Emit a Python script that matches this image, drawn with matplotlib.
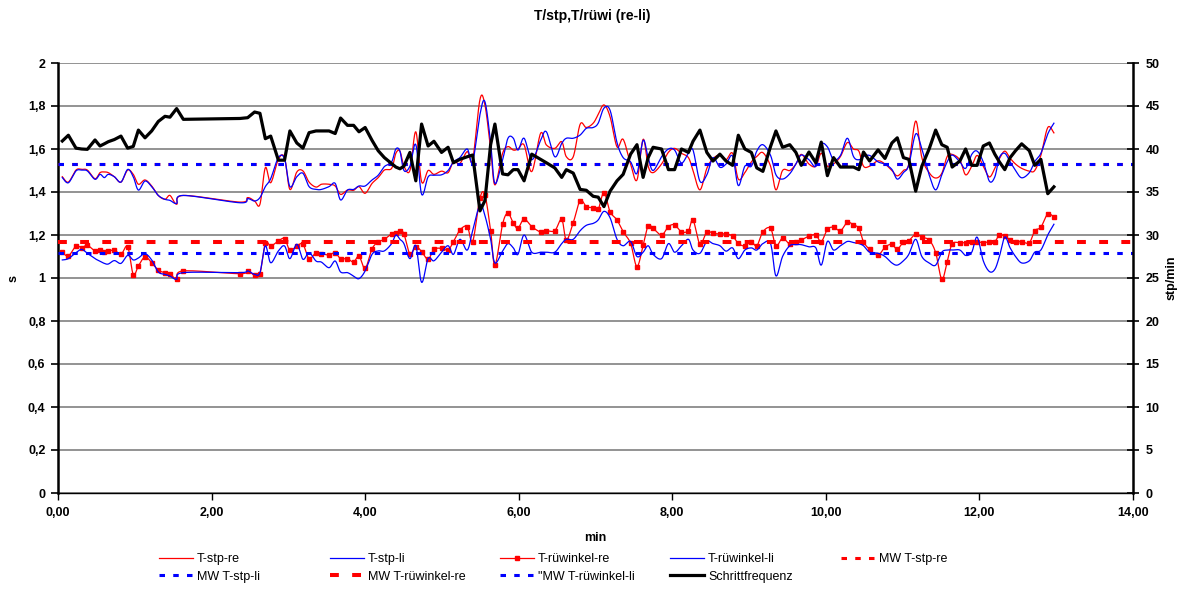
import numpy as np
import matplotlib
matplotlib.use("Agg")
import matplotlib.pyplot as plt
from matplotlib.lines import Line2D

plt.rcParams['font.family'] = ['Liberation Sans', 'DejaVu Sans']

# time of each recorded step [min]
t_min = [
    0.056, 0.135, 0.234, 0.308, 0.382, 0.482, 0.547, 0.603, 0.655, 0.734, 0.82, 0.907, 0.98, 1.047, 1.133, 1.22, 1.306, 1.393, 1.458, 1.545, 1.632,
    2.37, 2.47, 2.56, 2.63, 2.70, 2.77, 2.87, 2.95, 3.02, 3.11, 3.19, 3.27, 3.36, 3.43, 3.53, 3.61, 3.68, 3.77, 3.85, 3.92, 4.00, 4.09, 4.17, 4.25,
    4.345, 4.40, 4.453, 4.505, 4.583, 4.66, 4.735, 4.82, 4.896, 4.995, 5.08, 5.15, 5.234, 5.33, 5.40, 5.495, 5.56, 5.634, 5.69, 5.79,
    5.86, 5.93, 5.99, 6.07, 6.17, 6.285, 6.36, 6.47, 6.56, 6.62, 6.71, 6.80, 6.88, 6.97, 7.035, 7.11, 7.19, 7.28, 7.36, 7.457,
    7.54, 7.62, 7.686, 7.75, 7.86, 7.95, 8.03, 8.12, 8.21, 8.27, 8.36, 8.45, 8.53, 8.62,
    8.70, 8.785, 8.86, 8.945, 9.03, 9.10, 9.18, 9.28, 9.35, 9.436, 9.53, 9.61, 9.68, 9.78, 9.87, 9.94, 10.02, 10.10, 10.19, 10.28,
    10.36, 10.43, 10.49, 10.57, 10.68, 10.77, 10.86, 10.93, 11.01, 11.08, 11.17, 11.25, 11.345, 11.43, 11.51, 11.58, 11.645, 11.745,
    11.82, 11.90, 11.97, 12.05, 12.13, 12.20, 12.26, 12.33, 12.40, 12.47, 12.55, 12.65, 12.72, 12.80, 12.89, 12.97,
]

# step time right / left [s]
t_stp_re = [
    1.471, 1.446, 1.502, 1.505, 1.502, 1.462, 1.490, 1.493, 1.490, 1.471, 1.446, 1.502, 1.482, 1.436, 1.456, 1.428, 1.384, 1.366, 1.384, 1.343, 1.384,
    1.353, 1.374, 1.358, 1.343, 1.513, 1.443, 1.552, 1.560, 1.412, 1.493, 1.498, 1.446, 1.423, 1.436, 1.436, 1.428, 1.389, 1.409, 1.408, 1.425, 1.394, 1.440, 1.467, 1.502,
    1.51, 1.58, 1.59, 1.52, 1.50, 1.68, 1.448, 1.50, 1.482, 1.497, 1.49, 1.54, 1.533, 1.588, 1.549, 1.83, 1.805, 1.60, 1.433, 1.58,
    1.611, 1.595, 1.60, 1.619, 1.495, 1.673, 1.619, 1.603, 1.634, 1.564, 1.564, 1.715, 1.70, 1.72, 1.76, 1.805, 1.75, 1.61, 1.645, 1.53,
    1.456, 1.645, 1.52, 1.49, 1.53, 1.585, 1.603, 1.58, 1.56, 1.50, 1.41, 1.51, 1.555, 1.572,
    1.55, 1.58, 1.46, 1.49, 1.54, 1.565, 1.583, 1.52, 1.41, 1.50, 1.50, 1.53, 1.575, 1.53, 1.52, 1.58, 1.52, 1.53, 1.565, 1.63,
    1.60, 1.59, 1.52, 1.52, 1.545, 1.53, 1.50, 1.475, 1.50, 1.53, 1.73, 1.56, 1.49, 1.465, 1.487, 1.565, 1.575, 1.549,
    1.48, 1.52, 1.57, 1.52, 1.47, 1.51, 1.555, 1.59, 1.557, 1.53, 1.51, 1.497, 1.50, 1.57, 1.70, 1.675,
]
t_stp_li = [
    1.467, 1.443, 1.498, 1.502, 1.498, 1.459, 1.482, 1.467, 1.482, 1.471, 1.446, 1.505, 1.471, 1.409, 1.451, 1.425, 1.384, 1.366, 1.361, 1.347, 1.384,
    1.350, 1.369, 1.358, 1.374, 1.425, 1.462, 1.560, 1.555, 1.425, 1.471, 1.487, 1.425, 1.412, 1.412, 1.425, 1.440, 1.363, 1.409, 1.412, 1.428, 1.428, 1.456, 1.478, 1.518,
    1.54, 1.60, 1.59, 1.50, 1.52, 1.62, 1.39, 1.47, 1.478, 1.48, 1.50, 1.54, 1.56, 1.60, 1.54, 1.76, 1.82, 1.63, 1.44, 1.55,
    1.65, 1.65, 1.595, 1.65, 1.55, 1.64, 1.68, 1.564, 1.626, 1.65, 1.65, 1.665, 1.696, 1.70, 1.72, 1.79, 1.78, 1.63, 1.56, 1.54,
    1.487, 1.64, 1.56, 1.50, 1.564, 1.60, 1.595, 1.535, 1.58, 1.595, 1.45, 1.48, 1.56, 1.515,
    1.53, 1.567, 1.43, 1.52, 1.52, 1.59, 1.62, 1.57, 1.48, 1.46, 1.485, 1.53, 1.572, 1.55, 1.52, 1.62, 1.61, 1.55, 1.57, 1.65,
    1.565, 1.55, 1.565, 1.57, 1.54, 1.53, 1.505, 1.46, 1.49, 1.525, 1.67, 1.60, 1.48, 1.41, 1.48, 1.54, 1.572, 1.54,
    1.51, 1.575, 1.59, 1.54, 1.45, 1.47, 1.56, 1.58, 1.54, 1.50, 1.466, 1.49, 1.541, 1.58, 1.67, 1.72,
]

# time between back-swing angles right / left [s]
t_rw_re = [
    1.121, 1.102, 1.149, 1.141, 1.152, 1.126, 1.129, 1.121, 1.124, 1.130, 1.110, 1.146, 1.016, 1.056, 1.098, 1.071, 1.036, 1.025, 1.020, 0.994, 1.033,
    1.020, 1.033, 1.012, 1.020, 1.164, 1.149, 1.172, 1.183, 1.130, 1.149, 1.157, 1.090, 1.118, 1.113, 1.107, 1.118, 1.090, 1.090, 1.074, 1.102, 1.045, 1.136, 1.167, 1.180,
    1.205, 1.208, 1.22, 1.205, 1.112, 1.146, 1.123, 1.087, 1.133, 1.138, 1.13, 1.169, 1.223, 1.239, 1.169, 1.371, 1.386, 1.22, 1.06, 1.251,
    1.301, 1.254, 1.231, 1.274, 1.239, 1.214, 1.22, 1.22, 1.273, 1.177, 1.257, 1.36, 1.332, 1.327, 1.32, 1.397, 1.308, 1.27, 1.215, 1.161,
    1.053, 1.153, 1.243, 1.231, 1.2, 1.239, 1.247, 1.215, 1.22, 1.27, 1.158, 1.215, 1.208, 1.205,
    1.205, 1.195, 1.161, 1.149, 1.169, 1.149, 1.215, 1.231, 1.149, 1.185, 1.158, 1.169, 1.177, 1.195, 1.2, 1.169, 1.226, 1.236, 1.22, 1.259,
    1.247, 1.231, 1.169, 1.133, 1.107, 1.143, 1.157, 1.133, 1.169, 1.174, 1.205, 1.189, 1.177, 1.118, 0.994, 1.076, 1.158, 1.164,
    1.164, 1.169, 1.169, 1.164, 1.169, 1.169, 1.2, 1.195, 1.177, 1.169, 1.169, 1.164, 1.22, 1.236, 1.298, 1.282,
]
t_rw_li = [
    1.084, 1.090, 1.118, 1.133, 1.115, 1.090, 1.078, 1.068, 1.065, 1.081, 1.068, 1.105, 1.084, 1.093, 1.113, 1.084, 1.028, 1.017, 1.009, 0.994, 1.025,
    1.025, 1.033, 1.017, 1.025, 1.149, 1.071, 1.126, 1.149, 1.090, 1.157, 1.087, 1.118, 1.079, 1.074, 1.048, 1.079, 1.028, 1.025, 1.009, 0.997, 1.033, 1.110, 1.126, 1.126,
    1.16, 1.20, 1.18, 1.16, 1.09, 1.15, 0.98, 1.09, 1.08, 1.12, 1.15, 1.11, 1.18, 1.13, 1.22, 1.34, 1.29, 1.18, 1.07, 1.125,
    1.16, 1.14, 1.11, 1.20, 1.12, 1.12, 1.12, 1.12, 1.16, 1.18, 1.18, 1.22, 1.245, 1.254, 1.27, 1.31, 1.28, 1.18, 1.15, 1.17,
    1.10, 1.12, 1.15, 1.11, 1.09, 1.16, 1.12, 1.15, 1.18, 1.13, 1.115, 1.17, 1.16, 1.15,
    1.125, 1.14, 1.09, 1.13, 1.14, 1.13, 1.16, 1.16, 1.01, 1.10, 1.15, 1.155, 1.155, 1.145, 1.14, 1.06, 1.17, 1.13, 1.15, 1.17,
    1.165, 1.16, 1.15, 1.12, 1.115, 1.10, 1.07, 1.06, 1.08, 1.11, 1.18, 1.10, 1.07, 1.06, 1.12, 1.13, 1.13, 1.13,
    1.105, 1.12, 1.19, 1.08, 1.03, 1.04, 1.10, 1.19, 1.14, 1.10, 1.07, 1.08, 1.12, 1.13, 1.20, 1.25,
]

# cadence [stp/min]
schrittfrequenz = [
    40.93, 41.6, 40.1, 40.0, 39.96, 41.05, 40.35, 40.6, 40.85, 41.1, 41.5, 40.1, 40.3, 42.2, 41.3, 42.1, 43.2, 43.8, 43.7, 44.7, 43.45,
    43.55, 43.64, 44.3, 44.15, 41.2, 41.5, 38.7, 38.7, 42.1, 40.7, 40.1, 41.9, 42.1, 42.1, 42.1, 41.8, 43.6, 42.75, 42.75, 42.0, 42.5, 41.0, 39.8, 39.0,
    38.3, 37.9, 37.7, 38.0, 39.6, 36.3, 42.9, 40.35, 40.9, 39.6, 40.2, 38.4, 38.8, 39.1, 39.3, 32.8, 34.0, 40.5, 42.9, 37.1,
    37.0, 37.6, 37.6, 36.3, 39.4, 38.8, 38.4, 37.8, 36.7, 37.6, 37.2, 35.3, 35.2, 34.5, 34.4, 33.3, 35.1, 36.3, 37.05, 39.4,
    40.5, 36.7, 39.0, 40.2, 40.0, 37.6, 37.6, 40.0, 39.6, 40.9, 42.2, 39.6, 38.6, 39.4,
    38.6, 38.1, 41.6, 40.0, 39.6, 37.8, 37.4, 40.3, 42.1, 40.2, 40.5, 39.6, 38.1, 39.65, 38.4, 40.8, 36.9, 39.0, 37.9, 37.9,
    37.9, 37.6, 39.65, 38.6, 39.9, 38.9, 40.7, 41.3, 39.0, 38.8, 35.1, 38.0, 40.0, 42.2, 40.5, 40.2, 37.9, 38.6,
    40.0, 38.1, 38.1, 40.35, 40.7, 39.4, 38.5, 37.6, 39.0, 39.8, 40.6, 39.8, 38.1, 38.8, 34.8, 35.6,
]

# mean values [s]
mw_stp_re = 1.53
mw_stp_li = 1.53
mw_rw_re = 1.167
mw_rw_li = 1.116

x_ticks = [0, 2, 4, 6, 8, 10, 12, 14]
y_ticks = [0, 0.2, 0.4, 0.6, 0.8, 1.0, 1.2, 1.4, 1.6, 1.8, 2.0]
y2_ticks = [0, 5, 10, 15, 20, 25, 30, 35, 40, 45, 50]

RED = '#FF0000'
BLUE = '#0000FF'
W, H = 1184, 589


def smooth(x, y, n=14):
    """Bezier smoothing through every point (spreadsheet style smoothed line)."""
    P = np.column_stack([np.asarray(x, float), np.asarray(y, float)])
    Q = np.vstack([P[0], P, P[-1]])
    s = np.linspace(0, 1, n, endpoint=False)[:, None]
    parts = []
    for i in range(len(P) - 1):
        p0, p1, p2, p3 = Q[i], Q[i + 1], Q[i + 2], Q[i + 3]
        c1 = p1 + (p2 - p0) / 6.0
        c2 = p2 - (p3 - p1) / 6.0
        parts.append((1 - s) ** 3 * p1 + 3 * (1 - s) ** 2 * s * c1
                     + 3 * (1 - s) * s ** 2 * c2 + s ** 3 * p2)
    parts.append(P[-1:])
    C = np.vstack(parts)
    return C[:, 0], C[:, 1]


fig = plt.figure(figsize=(W / 100, H / 100), dpi=100)
ax = fig.add_axes([58 / W, 1 - 493 / H, (1133 - 58) / W, (493 - 63) / H])
ax2 = ax.twinx()

# data lines (left axis)
ax.plot(*smooth(t_min, t_stp_re), color=RED, lw=0.9, zorder=3)
ax.plot(*smooth(t_min, t_stp_li), color=BLUE, lw=0.9, zorder=3)
ax.plot(*smooth(t_min, t_rw_re), color=RED, lw=0.9, zorder=3)
ax.plot(t_min, t_rw_re, ls='none', marker='s', ms=2.2, color=RED, mec=RED, zorder=3)
ax.plot(*smooth(t_min, t_rw_li), color=BLUE, lw=0.9, zorder=3)

# mean lines
dot_style = dict(lw=2.2, ls=(0, (1.8, 2.7)), dash_capstyle='butt')
dash_style = dict(lw=2.9, ls=(0, (2.2, 3.3)), dash_capstyle='butt')
ax.axhline(mw_stp_re, color=RED, zorder=4, **dot_style)
ax.axhline(mw_stp_li, color=BLUE, zorder=4, **dot_style)
ax.axhline(mw_rw_re, color=RED, zorder=4, **dash_style)
ax.axhline(mw_rw_li, color=BLUE, zorder=4, **dot_style)

# cadence (right axis)
ax2.plot(t_min, schrittfrequenz, color='black', lw=2.3, zorder=5)

# axes setup
ax.set_xlim(0, 14)
ax.set_ylim(0, 2)
ax2.set_ylim(0, 50)
ax.set_xticks(x_ticks)
ax.set_xticklabels([f'{v:.2f}'.replace('.', ',') for v in x_ticks])
ax.set_yticks(y_ticks)
ax.set_yticklabels([f'{v:g}'.replace('.', ',') for v in y_ticks])
ax2.set_yticks(y2_ticks)
ax2.set_yticklabels([str(v) for v in y2_ticks])

ax.yaxis.grid(True, color='#808080', lw=1.2)
ax.set_axisbelow(True)

for a in (ax, ax2):
    a.spines['top'].set_visible(False)
ax.spines['right'].set_visible(False)
ax2.spines['left'].set_visible(False)
ax2.spines['bottom'].set_visible(False)
ax.spines['left'].set_linewidth(1.8)
ax2.spines['right'].set_linewidth(1.8)
ax.spines['bottom'].set_linewidth(1.0)

tick_font = dict(labelsize=9)
ax.tick_params(axis='y', direction='out', length=5, width=1.2, pad=4, **tick_font)
ax.tick_params(axis='x', direction='out', length=5, width=1.0, pad=5, **tick_font)
ax2.tick_params(axis='y', direction='inout', length=8, width=1.2, pad=5, **tick_font)
for lab in ax.get_xticklabels() + ax.get_yticklabels() + ax2.get_yticklabels():
    lab.set_fontweight('bold')

# texts
fig.text(592 / W, 1 - 16 / H, 'T/stp,T/rüwi (re-li)', ha='center', va='center',
         fontsize=10, fontweight='bold')
fig.text(595 / W, 1 - 538 / H, 'min', ha='center', va='center', fontsize=9, fontweight='bold')
fig.text(14 / W, 1 - 278 / H, 's', ha='center', va='center', rotation=90,
         fontsize=9, fontweight='bold')
fig.text(1172 / W, 1 - 278 / H, 'stp/min', ha='center', va='center', rotation=90,
         fontsize=9, fontweight='bold')

# legend, laid out in five columns
h_stp_re = Line2D([], [], color=RED, lw=0.9)
h_stp_li = Line2D([], [], color=BLUE, lw=0.9)
h_rw_re = Line2D([], [], color=RED, lw=0.9, marker='s', ms=2.2)
h_rw_li = Line2D([], [], color=BLUE, lw=0.9)
h_mw_stp_re = Line2D([], [], color=RED, **dot_style)
h_mw_stp_li = Line2D([], [], color=BLUE, **dot_style)
h_mw_rw_re = Line2D([], [], color=RED, **dash_style)
h_mw_rw_li = Line2D([], [], color=BLUE, **dot_style)
h_sf = Line2D([], [], color='black', lw=2.3)

columns = [
    ([h_stp_re, h_mw_stp_li], ['T-stp-re', 'MW T-stp-li'], 159),
    ([h_stp_li, h_mw_rw_re], ['T-stp-li', 'MW T-rüwinkel-re'], 330),
    ([h_rw_re, h_mw_rw_li], ['T-rüwinkel-re', '"MW T-rüwinkel-li'], 500),
    ([h_rw_li, h_sf], ['T-rüwinkel-li', 'Schrittfrequenz'], 670),
    ([h_mw_stp_re], ['MW T-stp-re'], 841),
]
for handles, labels, xpos in columns:
    fig.legend(handles, labels, loc='upper left', bbox_to_anchor=(xpos / W, 1 - 553 / H),
               frameon=False, fontsize=9, handlelength=2.75, handletextpad=0.3,
               labelspacing=0.45, borderpad=0, borderaxespad=0)

fig.savefig('out.png', dpi=100)
